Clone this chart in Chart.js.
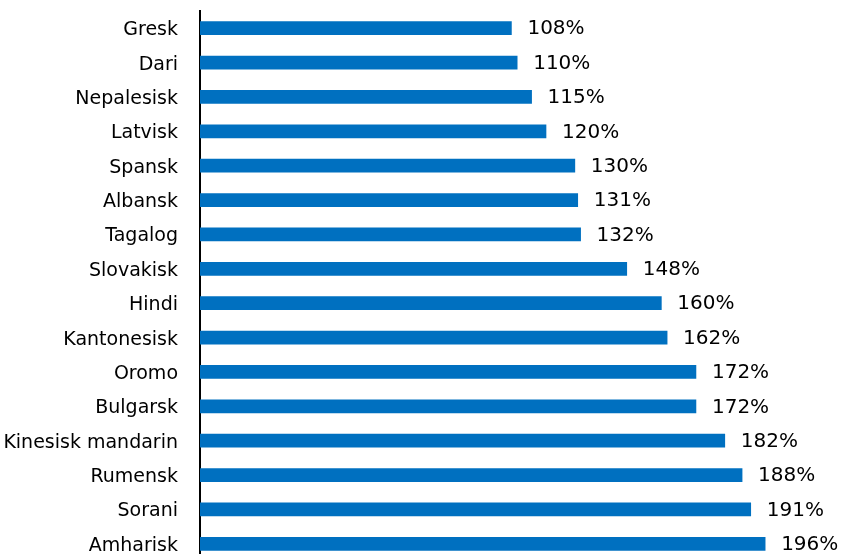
<!DOCTYPE html>
<html>
<head>
<meta charset="utf-8">
<script src="https://cdn.jsdelivr.net/npm/chart.js@4"></script>
<style>
  html, body { margin: 0; padding: 0; background: #fff; overflow: hidden; }
</style>
</head>
<body>
<canvas id="grafico" width="843" height="561"></canvas>
<script>
// DATOS
const spraak = ["Gresk", "Dari", "Nepalesisk", "Latvisk", "Spansk", "Albansk", "Tagalog", "Slovakisk",
  "Hindi", "Kantonesisk", "Oromo", "Bulgarsk", "Kinesisk mandarin", "Rumensk", "Sorani", "Amharisk"];
const andel = [108, 110, 115, 120, 130, 131, 132, 148, 160, 162, 172, 172, 182, 188, 191, 196];

const fuente = "'DejaVu Sans', sans-serif";

// etiquetas de valor al final de cada barra
const etiquetasValor = {
  id: 'etiquetasValor',
  afterDatasetsDraw(chart) {
    const ctx = chart.ctx;
    ctx.save();
    ctx.font = '20px ' + fuente;
    ctx.fillStyle = '#000';
    ctx.textAlign = 'left';
    ctx.textBaseline = 'middle';
    chart.getDatasetMeta(0).data.forEach((bar, i) => {
      ctx.fillText(andel[i] + '%', bar.x + 16, bar.y + 1);
    });
    ctx.restore();
  }
};

new Chart(document.getElementById('grafico'), {
  type: 'bar',
  data: {
    labels: spraak,
    datasets: [{
      data: andel,
      backgroundColor: '#0070C0',
      barThickness: 13
    }]
  },
  options: {
    indexAxis: 'y',
    responsive: false,
    animation: false,
    layout: { padding: { top: 11, right: 0, bottom: 0, left: 0 } },
    plugins: {
      legend: { display: false },
      tooltip: { enabled: false }
    },
    scales: {
      x: {
        display: false,
        min: 0,
        max: 223
      },
      y: {
        afterFit: scale => {
          scale.width = 200;
          scale.paddingTop = 0;
          scale.paddingBottom = 0;
        },
        grid: { display: false, drawTicks: false },
        border: { display: true, color: '#000', width: 2 },
        ticks: {
          padding: 22,
          labelOffset: 2,
          color: '#000',
          font: { family: fuente, size: 19 }
        }
      }
    }
  },
  plugins: [etiquetasValor]
});
</script>
</body>
</html>
